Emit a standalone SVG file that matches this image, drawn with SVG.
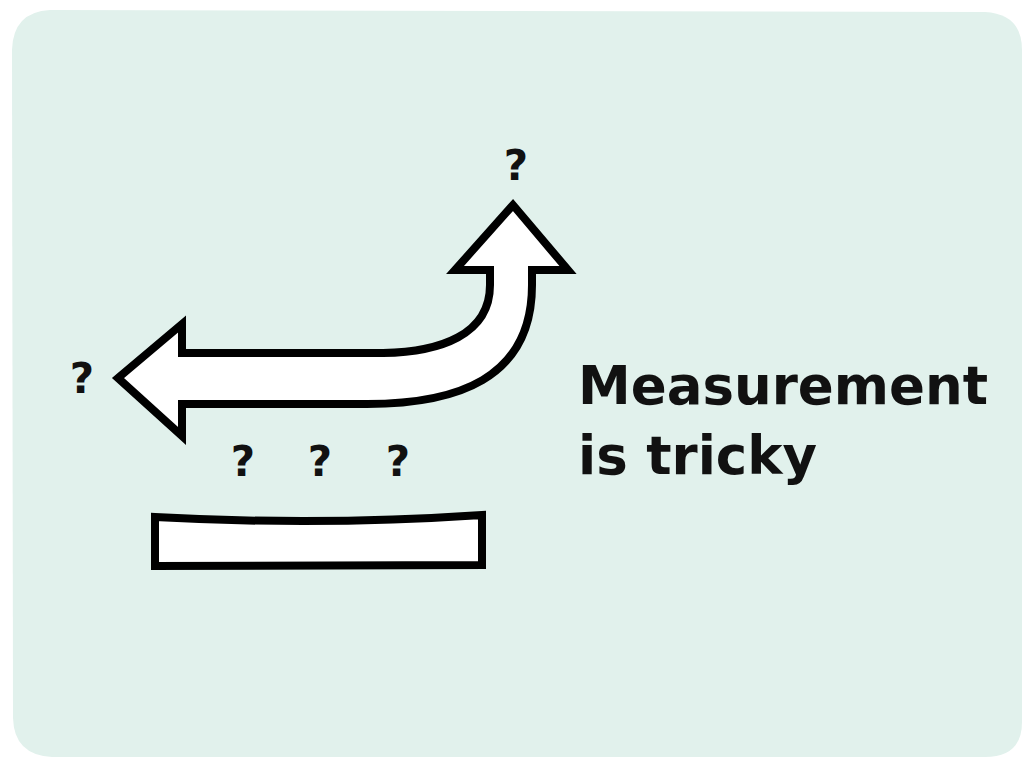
<svg xmlns="http://www.w3.org/2000/svg" width="1024" height="768" viewBox="0 0 1024 768">
<style>
.q{font-family:"DejaVu Sans","Open Sans",sans-serif;font-weight:700;font-size:42px;fill:#111;text-anchor:middle}
.lbl{font-family:"DejaVu Sans","Open Sans",sans-serif;font-weight:700;font-size:53px;fill:#111}
.shape{fill:#fff;stroke:#000;stroke-width:8;stroke-linejoin:miter}
</style>
<rect width="1024" height="768" fill="#fff"/>
<path d="M50 10 L985 12 Q1022 14 1022 50 L1022 722 Q1022 757 985 757 L52 757 Q14 755 13 718 L12 50 Q13 12 50 10 Z" fill="#E1F1EC"/>
<g id="arrow">
<path class="shape" d="M118 378 L182 324 L182 353 L383 353 C440 352 490 335 490 285 L490 270 L455 270 L513 205 L568 270 L532 270 L532 285 C532 380 455 404 367 404 L182 404 L182 436 Z"/>
</g>
<g id="bar">
<path class="shape" d="M155 517 Q320 526 482 515 L482 565 L155 566 Z"/>
</g>
<g id="questions">
<text class="q" x="516" y="180">?</text>
<text class="q" x="82" y="393">?</text>
<text class="q" x="243" y="476">?</text>
<text class="q" x="320" y="476">?</text>
<text class="q" x="398" y="476">?</text>
</g>
<g id="label">
<text class="lbl" x="578" y="404">Measurement</text>
<text class="lbl" x="578" y="474">is tricky</text>
</g>
</svg>
